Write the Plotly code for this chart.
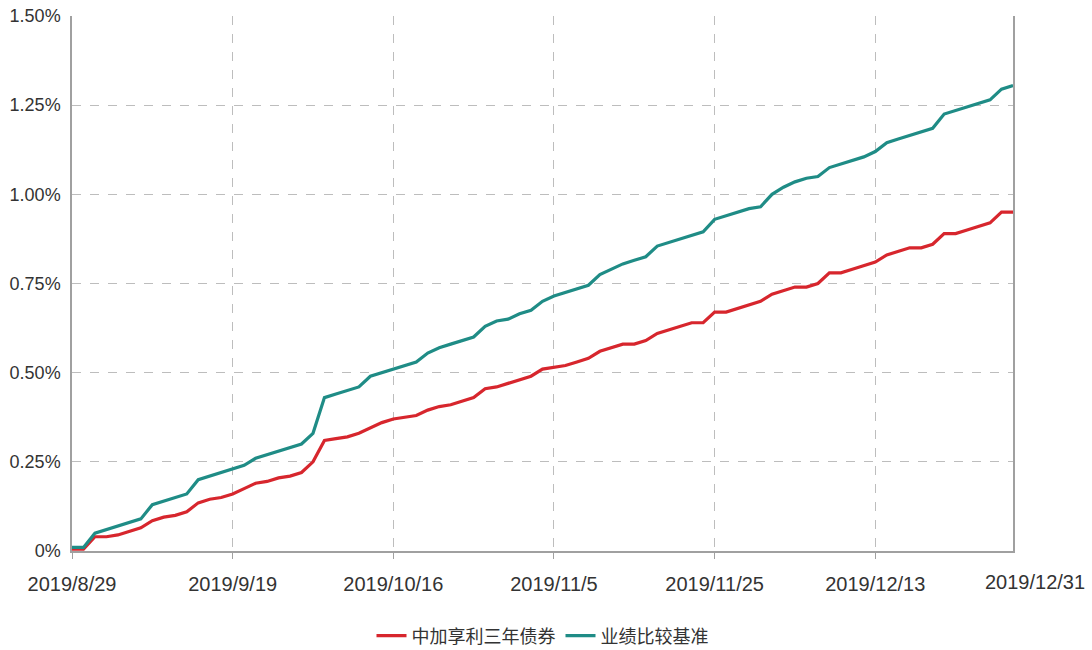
import plotly.graph_objects as go

dates = [
    "2019/8/29", "2019/8/30",
    "2019/9/2", "2019/9/3", "2019/9/4", "2019/9/5", "2019/9/6",
    "2019/9/9", "2019/9/10", "2019/9/11", "2019/9/12",
    "2019/9/16", "2019/9/17", "2019/9/18", "2019/9/19", "2019/9/20",
    "2019/9/23", "2019/9/24", "2019/9/25", "2019/9/26", "2019/9/27",
    "2019/9/30",
    "2019/10/8", "2019/10/9", "2019/10/10", "2019/10/11",
    "2019/10/14", "2019/10/15", "2019/10/16", "2019/10/17", "2019/10/18",
    "2019/10/21", "2019/10/22", "2019/10/23", "2019/10/24", "2019/10/25",
    "2019/10/28", "2019/10/29", "2019/10/30", "2019/10/31", "2019/11/1",
    "2019/11/4", "2019/11/5", "2019/11/6", "2019/11/7", "2019/11/8",
    "2019/11/11", "2019/11/12", "2019/11/13", "2019/11/14", "2019/11/15",
    "2019/11/18", "2019/11/19", "2019/11/20", "2019/11/21", "2019/11/22",
    "2019/11/25", "2019/11/26", "2019/11/27", "2019/11/28", "2019/11/29",
    "2019/12/2", "2019/12/3", "2019/12/4", "2019/12/5", "2019/12/6",
    "2019/12/9", "2019/12/10", "2019/12/11", "2019/12/12", "2019/12/13",
    "2019/12/16", "2019/12/17", "2019/12/18", "2019/12/19", "2019/12/20",
    "2019/12/23", "2019/12/24", "2019/12/25", "2019/12/26", "2019/12/27",
    "2019/12/30", "2019/12/31",
]

fund = [
    0.005, 0.005, 0.04, 0.04, 0.045, 0.055, 0.065, 0.085, 0.095, 0.10, 0.11,
    0.135, 0.145, 0.15, 0.16, 0.175, 0.19, 0.195, 0.205, 0.21, 0.22,
    0.25, 0.31, 0.315, 0.32, 0.33, 0.345, 0.36, 0.37, 0.375, 0.38,
    0.395, 0.405, 0.41, 0.42, 0.43, 0.455, 0.46, 0.47, 0.48, 0.49,
    0.51, 0.515, 0.52, 0.53, 0.54, 0.56, 0.57, 0.58, 0.58, 0.59,
    0.61, 0.62, 0.63, 0.64, 0.64, 0.67, 0.67, 0.68, 0.69, 0.70,
    0.72, 0.73, 0.74, 0.74, 0.75, 0.78, 0.78, 0.79, 0.80, 0.81,
    0.83, 0.84, 0.85, 0.85, 0.86, 0.89, 0.89, 0.90, 0.91, 0.92,
    0.95, 0.95,
]

bench = [
    0.01, 0.01, 0.05, 0.06, 0.07, 0.08, 0.09, 0.13, 0.14, 0.15, 0.16,
    0.20, 0.21, 0.22, 0.23, 0.24, 0.26, 0.27, 0.28, 0.29, 0.30,
    0.33, 0.43, 0.44, 0.45, 0.46, 0.49, 0.50, 0.51, 0.52, 0.53,
    0.555, 0.57, 0.58, 0.59, 0.60, 0.63, 0.645, 0.65, 0.665, 0.675,
    0.70, 0.715, 0.725, 0.735, 0.745, 0.775, 0.79, 0.805, 0.815, 0.825,
    0.855, 0.865, 0.875, 0.885, 0.895, 0.93, 0.94, 0.95, 0.96, 0.965,
    1.00, 1.02, 1.035, 1.045, 1.05, 1.075, 1.085, 1.095, 1.105, 1.12,
    1.145, 1.155, 1.165, 1.175, 1.185, 1.225, 1.235, 1.245, 1.255, 1.265,
    1.295, 1.305,
]

series_names = ["中加享利三年债券", "业绩比较基准"]
x_ticks = ["2019/8/29", "2019/9/19", "2019/10/16", "2019/11/5", "2019/11/25", "2019/12/13"]
last_label = "2019/12/31"
y_ticks = [0, 0.25, 0.5, 0.75, 1.0, 1.25, 1.5]
y_text = ["0%", "0.25%", "0.50%", "0.75%", "1.00%", "1.25%", "1.50%"]

RED = "#d7262d"
TEAL = "#1f8c86"
FONT = "Liberation Sans, Arial, sans-serif"

fig = go.Figure()
fig.add_trace(go.Scatter(x=dates, y=fund, mode="lines", name=series_names[0],
                         line=dict(color=RED, width=3.2)))
fig.add_trace(go.Scatter(x=dates, y=bench, mode="lines", name=series_names[1],
                         line=dict(color=TEAL, width=3.2)))

fig.update_layout(
    width=1092, height=650,
    margin=dict(l=72, r=79, t=16, b=99),
    paper_bgcolor="white", plot_bgcolor="white",
    font=dict(family=FONT, size=17, color="#333333"),
    showlegend=True,
    legend=dict(orientation="h", x=0.5, xanchor="center",
                yref="container", y=(650 - 636) / 650, yanchor="middle",
                font=dict(family="Noto Sans CJK SC, sans-serif", size=18, color="#333333"),
                itemwidth=30, bgcolor="rgba(0,0,0,0)"),
    xaxis=dict(
        type="category", range=[0, len(dates) - 1], automargin=False,
        tickmode="array", tickvals=x_ticks, ticktext=x_ticks,
        showgrid=True, gridcolor="#bdbdbd", griddash="dash", gridwidth=1,
        showline=True, linecolor="#a0a0a0", linewidth=1.5,
        ticks="outside", ticklen=6, tickcolor="#a0a0a0",
        tickfont=dict(family=FONT, size=20, color="#333333"),
        ticklabelstandoff=8,
        zeroline=False,
    ),
    yaxis=dict(
        range=[0, 1.5], automargin=False,
        tickmode="array", tickvals=y_ticks, ticktext=y_text,
        showgrid=True, gridcolor="#bdbdbd", griddash="dash", gridwidth=1,
        showline=True, linecolor="#a0a0a0", linewidth=1.5, mirror=True,
        ticks="", zeroline=False,
        tickfont=dict(family=FONT, size=18, color="#333333"),
        ticklabelstandoff=6,
    ),
)

fig.add_annotation(x=1.0, y=0, xref="paper", yref="paper", text=last_label,
                   showarrow=False, xanchor="center", yanchor="top", xshift=22, yshift=-18,
                   font=dict(family=FONT, size=20, color="#333333"))

fig.write_html("out.html", config={"displayModeBar": False},
               post_script="document.body.style.margin='0px';document.body.style.overflow='hidden';")
